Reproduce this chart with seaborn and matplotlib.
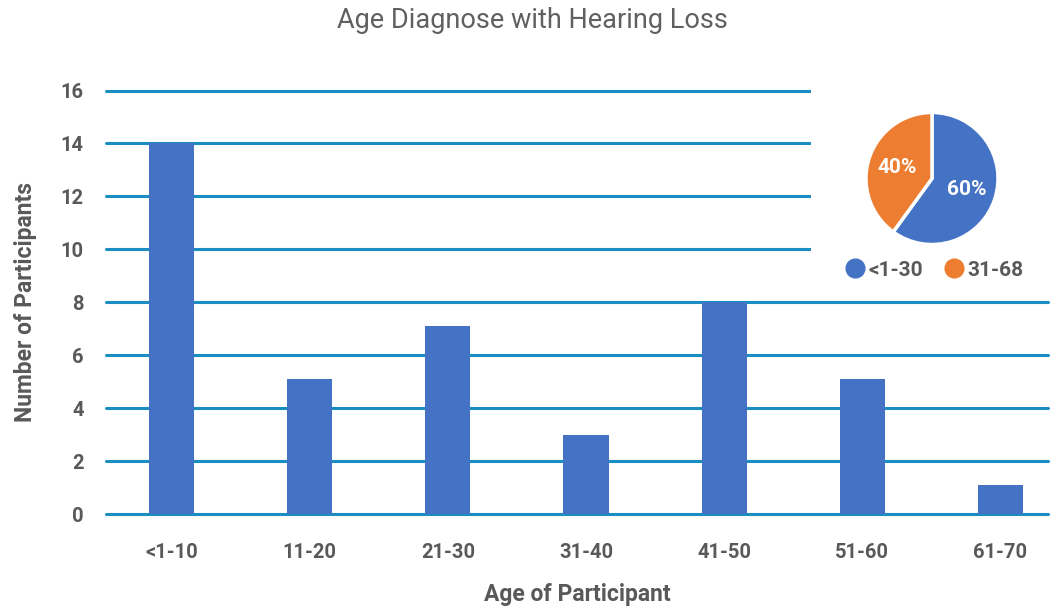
import matplotlib
matplotlib.use("Agg")
import matplotlib.pyplot as plt
from matplotlib.lines import Line2D
from matplotlib.patches import Rectangle
import seaborn as sns
import pandas as pd

# Bar chart data: participants per age band
age_groups = ["<1-10", "11-20", "21-30", "31-40", "41-50", "51-60", "61-70"]
participants = [14, 5.1, 7.1, 3, 8, 5.1, 1.1]

# Inset pie: share of participants by age range
pie_labels = ["<1-30", "31-68"]
pie_shares = [60, 40]

BLUE = "#4472C4"
ORANGE = "#ED7D31"
GRID = "#1A8EC2"
TEXT = "#595959"

sns.set_style("white")
plt.rcParams["font.family"] = ["Roboto", "DejaVu Sans"]

W, H = 1057, 610
fig = plt.figure(figsize=(W / 100, H / 100), dpi=100)

def fig_rect(x0, y0, x1, y1):
    """Pixel box (top-left origin) -> figure fraction rect."""
    return [x0 / W, 1 - y1 / H, (x1 - x0) / W, (y1 - y0) / H]

ax = fig.add_axes(fig_rect(106, 89.5, 1048, 514))

df = pd.DataFrame({"age": age_groups, "count": participants})
sns.barplot(data=df, x="age", y="count", color=BLUE, saturation=1,
            width=0.326, linewidth=0, ax=ax, zorder=3)

ax.set_xlim(-0.474, 6.344)
ax.set_ylim(0, 16.04)
ax.set_yticks(range(0, 17, 2))
ax.yaxis.grid(True, color=GRID, linewidth=2.2, zorder=1)
for gl in ax.get_ygridlines():
    gl.set_clip_on(False)
ax.set_axisbelow(True)
for s in ax.spines.values():
    s.set_visible(False)
ax.tick_params(axis="both", length=0, labelsize=14.5, labelcolor=TEXT)
ax.tick_params(axis="y", pad=16)
ax.tick_params(axis="x", pad=21)
for lbl in ax.get_xticklabels() + ax.get_yticklabels():
    lbl.set_fontweight("bold")

ax.set_xlabel("Age of Participant", fontsize=16.5, fontweight="bold",
              color=TEXT, labelpad=15)
ax.set_ylabel("Number of Participants", fontsize=16.5, fontweight="bold",
              color=TEXT, labelpad=17)

fig.text(532 / W, 1 - 21 / H, "Age Diagnose with Hearing Loss",
         ha="center", va="center", fontsize=19.5, color="#606060",
         fontweight="normal")

# White panel behind the inset pie
ax.add_patch(Rectangle((811 / W, 1 - 298 / H), (W - 811) / W, (298 - 75) / H,
                       transform=fig.transFigure, facecolor="white",
                       edgecolor="none", zorder=5, clip_on=False))

pax = fig.add_axes(fig_rect(932 - 68, 178.5 - 68, 932 + 68, 178.5 + 68))
pax.set_zorder(6)
wedges, _, autotexts = pax.pie(
    pie_shares, colors=[BLUE, ORANGE], startangle=90, counterclock=False,
    radius=1, autopct=lambda p: f"{p:.0f}%", pctdistance=0.55,
    wedgeprops=dict(edgecolor="white", linewidth=2.5),
    textprops=dict(color="white", fontsize=15, fontweight="bold"))
pax.set_xlim(-1.03, 1.03)
pax.set_ylim(-1.03, 1.03)
pax.set_aspect("equal")
pax.axis("off")

handles = [Line2D([], [], marker="o", linestyle="none", markersize=13.5,
                  markerfacecolor=c, markeredgecolor=c)
           for c in (BLUE, ORANGE)]
leg = fig.legend(handles, pie_labels, loc="center",
                 bbox_to_anchor=(934 / W, 1 - 270 / H), ncol=2, frameon=False,
                 handletextpad=0.15, columnspacing=1.0, handlelength=1.0,
                 prop=dict(size=15, weight="bold"))
for t in leg.get_texts():
    t.set_color(TEXT)
leg.set_zorder(7)

fig.savefig("out.png", dpi=100, facecolor="white")
